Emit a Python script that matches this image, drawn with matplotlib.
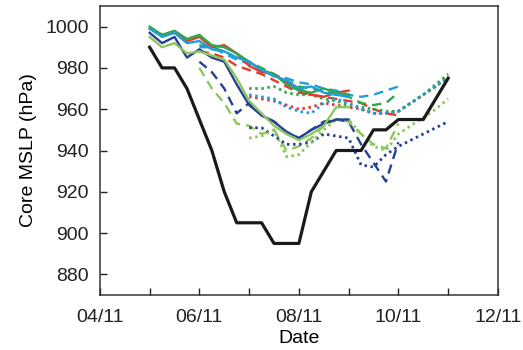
import numpy as np
import matplotlib
matplotlib.use("Agg")
import matplotlib.pyplot as plt

plt.rcParams['font.family'] = ['Liberation Sans', 'DejaVu Sans']

# time in days of November, 6-hourly
t_obs = np.arange(5.0, 11.01, 0.25)
obs = [990, 980, 980, 970, 955, 940, 920, 905, 905, 905, 895, 895, 895,
       920, 930, 940, 940, 940, 950, 950, 955, 955, 955, 965, 975]

t_solid = np.arange(5.0, 9.01, 0.25)
t_dash = np.arange(6.0, 10.01, 0.25)
t_dot = np.arange(7.0, 11.01, 0.25)

model_colors = ['#e63a30', '#2fa84a', '#1f9fd8', '#26409a', '#8cc75e']

solid_red = [999, 996, 997, 993, 995, 990, 991, 987, 981, 978, 977, 973, 970, 967, 966, 968, 969]
solid_green = [1000, 996, 998, 994, 996, 991, 990, 987, 983, 979, 977, 972, 969, 968, 970, 968, 967]
solid_cyan = [999, 995, 997, 992, 993, 989, 988, 985, 983, 979, 976, 974, 970, 971, 968, 967, 966]
solid_blue = [997, 992, 995, 985, 989, 985, 983, 972, 962, 957, 954, 949, 946, 950, 953, 955, 955]
solid_lgreen = [995, 990, 992, 987, 988, 986, 984, 975, 964, 958, 952, 948, 945, 948, 952, 961, 961]

dash_red = [988, 987, 985, 981, 979, 977, 974, 971, 968, 967, 966, 965, 964, 963, 960, 958, 957]
dash_green = [991, 990, 988, 985, 983, 980, 977, 974, 971, 970, 969, 967, 966, 963, 962, 963, 968]
dash_cyan = [990, 990, 987, 984, 982, 979, 976, 975, 973, 972, 970, 969, 967, 966, 967, 969, 971]
dash_blue = [983, 978, 970, 958, 963, 957, 954, 949, 946, 950, 954, 955, 954, 943, 934, 925, 944]
dash_lgreen = [980, 970, 963, 953, 952, 948, 950, 940, 942, 946, 952, 955, 954, 948, 943, 941, 953]

dot_red = [966, 965, 964, 962, 960, 961, 963, 962, 961, 960, 958, 958, 959, 963, 967, 971, 976]
dot_green = [970, 970, 971, 968, 967, 967, 965, 964, 962, 961, 960, 959, 959, 963, 967, 972, 977]
dot_cyan = [967, 966, 965, 961, 959, 958, 963, 965, 963, 960, 958, 958, 959, 963, 967, 971, 975]
dot_blue = [951, 951, 947, 943, 943, 944, 948, 947, 946, 933, 932, 938, 942, 945, 948, 951, 954]
dot_lgreen = [946, 947, 950, 937, 938, 944, 950, 955, 955, 948, 942, 940, 948, 952, 956, 960, 965]

x_ticks = [4, 5, 6, 7, 8, 9, 10, 11, 12]
x_labels = ['04/11', '', '06/11', '', '08/11', '', '10/11', '', '12/11']
y_ticks = [880, 900, 920, 940, 960, 980, 1000]

fig = plt.figure(figsize=(5.23, 3.5), dpi=100)
ax = fig.add_axes([0.191, 0.157, 0.761, 0.826])

solids = [solid_red, solid_green, solid_cyan, solid_blue, solid_lgreen]
dashes = [dash_red, dash_green, dash_cyan, dash_blue, dash_lgreen]
dots = [dot_red, dot_green, dot_cyan, dot_blue, dot_lgreen]

for vals, c in zip(dashes, model_colors):
    ax.plot(t_dash, vals, color=c, lw=1.7, ls=(0, (4, 2.5)))
for vals, c in zip(dots, model_colors):
    ax.plot(t_dot, vals, color=c, lw=2.0, ls=(0, (0.9, 1.3)))
for vals, c in zip(solids, model_colors):
    ax.plot(t_solid, vals, color=c, lw=1.7)
ax.plot(t_obs, obs, color='#1a1a1a', lw=2.3)

ax.set_xlim(4, 12)
ax.set_ylim(870, 1010)
ax.set_xticks(x_ticks)
ax.set_xticklabels(x_labels)
ax.set_yticks(y_ticks)
ax.tick_params(direction='in', length=5, width=1, labelsize=14, colors='#222222', pad=8)
ax.tick_params(axis='x', pad=10)
for s in ax.spines.values():
    s.set_linewidth(1.1)
    s.set_color('#333333')
ax.set_xlabel('Date', fontsize=14, labelpad=3)
ax.set_ylabel('Core MSLP (hPa)', fontsize=14, labelpad=6)

fig.savefig('out.png', dpi=100)
